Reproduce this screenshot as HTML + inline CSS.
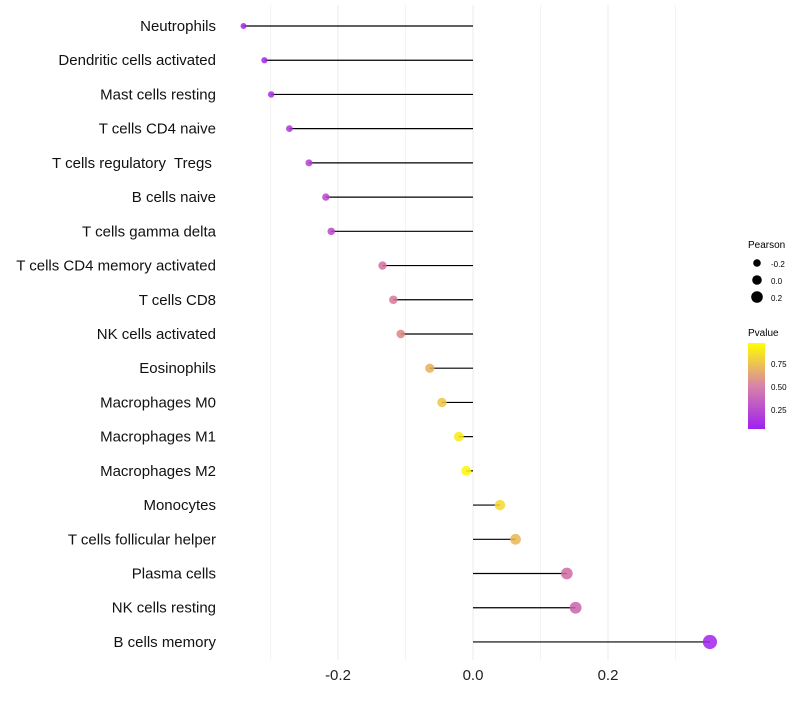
<!DOCTYPE html>
<html><head><meta charset="utf-8"><style>
body{margin:0;background:#fff;font-family:"Liberation Sans",sans-serif;}
svg text{font-family:"Liberation Sans",sans-serif;white-space:pre;}
</style></head><body>
<svg id="chart" width="800" height="700">
<defs><linearGradient id="pg" x1="0" y1="1" x2="0" y2="0">
<stop offset="0" stop-color="#A020F0"/><stop offset="0.5" stop-color="#D883A8"/><stop offset="1" stop-color="#FFFF00"/>
</linearGradient></defs>
<g id="grid"></g><g id="marks"></g><g id="labels"></g>
<g>
<text x="748" y="248" font-size="10">Pearson</text>
<circle cx="757" cy="263" r="3.8" fill="#000"/><text x="771" y="267" font-size="8">-0.2</text>
<circle cx="757" cy="280" r="4.8" fill="#000"/><text x="771" y="284" font-size="8">0.0</text>
<circle cx="757" cy="297" r="5.8" fill="#000"/><text x="771" y="301" font-size="8">0.2</text>
</g>
<g>
<text x="748" y="336" font-size="10">Pvalue</text>
<rect x="748" y="343" width="17" height="86" fill="url(#pg)"/>
<text x="771" y="367" font-size="8">0.75</text>
<text x="771" y="390" font-size="8">0.50</text>
<text x="771" y="413" font-size="8">0.25</text>
</g>
</svg>
<script>
const categories=["Neutrophils","Dendritic cells activated","Mast cells resting","T cells CD4 naive","T cells regulatory  Tregs ","B cells naive","T cells gamma delta","T cells CD4 memory activated","T cells CD8","NK cells activated","Eosinophils","Macrophages M0","Macrophages M1","Macrophages M2","Monocytes","T cells follicular helper","Plasma cells","NK cells resting","B cells memory"];
const pearson=[-0.340,-0.309,-0.299,-0.272,-0.243,-0.218,-0.210,-0.134,-0.118,-0.107,-0.064,-0.046,-0.021,-0.010,0.040,0.063,0.139,0.152,0.351];
const pvalues=[0.03,0.05,0.07,0.12,0.17,0.21,0.23,0.45,0.50,0.55,0.70,0.78,0.92,0.97,0.86,0.73,0.42,0.37,0.02];
const xTicks=[-0.2,0.0,0.2];
const xTickLabels=["-0.2","0.0","0.2"];
const ns="http://www.w3.org/2000/svg";
const x=v=>473+v*675;
const y=i=>26+i*34.22;
const rad=v=>Math.max(1.5,5.0+6*v);
function lerp(a,b,t){return a.map((c,k)=>Math.round(c+(b[k]-c)*t));}
function col(p){const A=[160,32,240],M=[216,120,150],B=[255,255,0];
 const c=p<0.5?lerp(A,M,p/0.5):lerp(M,B,(p-0.5)/0.5);return `rgb(${c.join(',')})`;}
function mk(t,a,parent){const e=document.createElementNS(ns,t);for(const k in a)e.setAttribute(k,a[k]);document.getElementById(parent).appendChild(e);return e;}
for(let v=-0.3;v<=0.31;v+=0.1){
 const g=mk('line',{x1:x(v),x2:x(v),y1:5,y2:660,stroke:'#ebebeb','stroke-width':Math.abs(Math.round(v*10))%2===0?1:0.6},'grid');
 
 
}
xTicks.forEach((t,i)=>{
 const e=mk('text',{x:x(t),y:680,'text-anchor':'middle','font-size':15,fill:'#222'},'labels');
 e.textContent=xTickLabels[i];
 
 
});
categories.forEach((c,i)=>{
 const l=mk('line',{x1:x(0),x2:x(pearson[i]),y1:y(i),y2:y(i),stroke:'#000','stroke-width':1.2},'marks');
 
 
 const p=mk('circle',{cx:x(pearson[i]),cy:y(i),r:rad(pearson[i]),fill:col(pvalues[i]),'fill-opacity':0.85},'marks');
 
 
 const t=mk('text',{x:216,y:y(i)+5,'text-anchor':'end','font-size':15,fill:'#111'},'labels');
 t.textContent=c;
 
 
});
</script>
</body></html>
